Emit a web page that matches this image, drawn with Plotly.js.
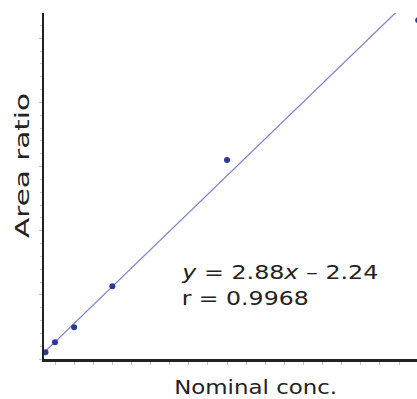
<!DOCTYPE html>
<html>
<head>
<meta charset="utf-8">
<script src="https://cdn.plot.ly/plotly-3.0.1.min.js"></script>
<style>html,body{margin:0;padding:0;background:#fff;}#chart{width:417px;height:399px;}</style>
</head>
<body>
<div id="chart"></div>
<script>
// Data
const conc = [0.5, 1, 2, 4, 10, 20];
const areaRatio = [-0.97, 0.59, 2.93, 9.33, 29.0, 50.8];
const slope = 2.88;
const intercept = -2.24;
const rValue = 0.9968;
const xTitle = "Nominal conc.";
const yTitle = "Area ratio";

const xRange = [0.424, 19.94];
const yRange = [-2.01, 51.92];
const fitX = [xRange[0], 21];
const fitY = fitX.map(v => slope * v + intercept);

const font = "DejaVu Sans, Verdana, sans-serif";

const traces = [
  {x: fitX, y: fitY, mode: "lines", line: {color: "#7f84d4", width: 1.3}, hoverinfo: "skip"},
  {x: conc, y: areaRatio, mode: "markers", marker: {color: "#2c3a96", size: 6}}
];

const layout = {
  width: 417, height: 399,
  margin: {l: 44, r: 0, t: 13, b: 40},
  paper_bgcolor: "#fff", plot_bgcolor: "#fff",
  showlegend: false,
  font: {family: font, color: "#222"},
  xaxis: {
    range: xRange, showgrid: false, zeroline: false,
    showline: true, linecolor: "#222", linewidth: 3,
    ticks: "outside", ticklen: 3, tickwidth: 1, tickcolor: "#c4c4c4",
    tick0: 0, dtick: 1, showticklabels: false
  },
  yaxis: {
    range: yRange, showgrid: false, zeroline: false,
    showline: true, linecolor: "#222", linewidth: 2.5,
    ticks: "outside", ticklen: 3, tickwidth: 1, tickcolor: "#c4c4c4",
    tick0: -2.01, dtick: 10, showticklabels: false,
    minor: {ticks: "outside", ticklen: 2, tickcolor: "#cfcfcf", dtick: 2, tick0: -2.01}
  },
  annotations: [
    {xref: "paper", yref: "paper", x: 0.633, y: 0.251, xanchor: "center", yanchor: "middle", showarrow: false,
     text: "<i>y</i> = " + slope.toFixed(2) + "<i>x</i> \u2013 " + Math.abs(intercept).toFixed(2), font: {size: 19, family: font, color: "#222"}},
    {xref: "paper", yref: "paper", x: 0.540, y: 0.177, xanchor: "center", yanchor: "middle", showarrow: false,
     text: "r = " + rValue.toFixed(4), font: {size: 19, family: font, color: "#222"}},
    {xref: "paper", yref: "paper", x: -0.059, y: 0.56, xanchor: "center", yanchor: "middle", textangle: -90, showarrow: false,
     text: yTitle, font: {size: 19, family: font, color: "#222"}},
    {xref: "paper", yref: "paper", x: 0.566, y: -0.082, xanchor: "center", yanchor: "middle", showarrow: false,
     text: xTitle, font: {size: 19, family: font, color: "#222"}}
  ]
};

// The reference text is wider than the font's natural width; stretch each label to its measured width
const textWidths = [196, 127, 145, 163];

Plotly.newPlot("chart", traces, layout, {displayModeBar: false, staticPlot: true}).then(gd => {
  const texts = gd.querySelectorAll(".annotation-text");
  texts.forEach((t, i) => {
    const w = textWidths[i];
    if (!w) return;
    t.setAttribute("textLength", w);
    t.setAttribute("lengthAdjust", "spacingAndGlyphs");
  });
});
</script>
</body>
</html>
